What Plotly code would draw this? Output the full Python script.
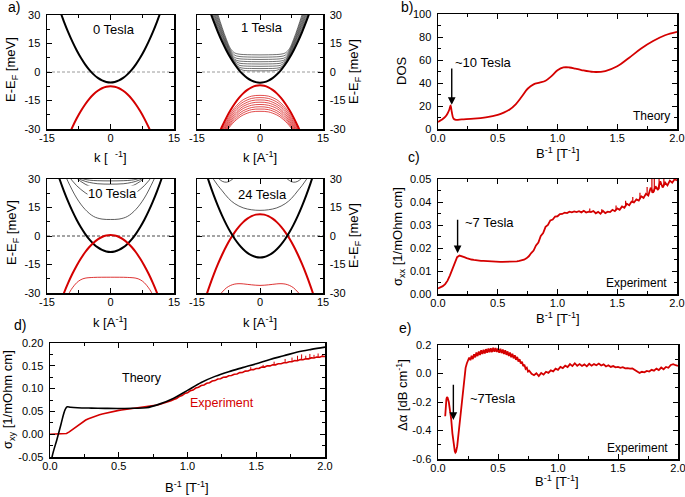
import plotly.graph_objects as go

W, H = 685, 497
RED = '#d40000'
FONT = 'Liberation Sans, Arial, sans-serif'

# ---------------- panel a: band structure (half curves k>=0, mirrored) ----------------
k_thick = [0, 1, 2, 3, 4, 5, 6, 7, 8, 9, 10, 11, 12, 13]
E0T_cond = [-5.5, -5.24, -4.44, -3.12, -1.26, 1.13, 4.04, 7.49, 11.46, 15.97, 21.0, 26.57, 32.66, 39.29]
E0T_val = [-7.5, -7.77, -8.56, -9.89, -11.76, -14.15, -17.08, -20.53, -24.52, -29.05, -34.1, -39.7, -45.8, -52.5]
E1T_cond = [-5.6, -5.34, -4.54, -3.22, -1.36, 1.03, 3.94, 7.39, 11.36, 15.87, 20.9, 26.47, 32.56, 39.19]
E1T_val = [-7.0, -7.27, -8.06, -9.39, -11.26, -13.65, -16.58, -20.03, -24.02, -28.55, -33.6, -39.2, -45.3, -52.0]
E10T_cond = [-8.4, -8.14, -7.34, -6.02, -4.16, -1.78, 1.14, 4.59, 8.56, 13.07, 18.1, 23.67, 29.76, 36.39]
E10T_val = [0.5, 0.25, -0.51, -1.77, -3.53, -5.8, -8.57, -11.85, -15.63, -19.9, -24.7, -30.0, -35.8, -42.1]
E24T_cond = [-11.3, -11.03, -10.22, -8.87, -6.98, -4.55, -1.58, 1.93, 5.98, 10.57, 15.7, 21.37, 27.58, 34.33]
E24T_val = [11.5, 11.24, 10.45, 9.14, 7.31, 4.95, 2.07, -1.34, -5.27, -9.72, -14.7, -20.2, -26.23, -32.78]

# 1 Tesla Landau levels
k_1T_cond = [0, 2, 4, 5, 6, 7, 8, 9, 10, 11, 12]
E_1T_LL_cond = [
    [0.6, 0.65, 0.9, 1.9, 4.4, 7.9, 12.0, 16.6, 21.8, 27.6, 33.9],
    [1.8, 1.85, 2.0, 2.6, 4.8, 8.4, 12.6, 17.4, 22.8, 28.8, 35.3],
    [3.0, 3.05, 3.2, 3.6, 5.4, 8.9, 13.3, 18.3, 23.9, 30.1, 36.8],
    [4.2, 4.25, 4.4, 4.7, 6.0, 9.4, 14.0, 19.2, 25.0, 31.4, 38.4],
    [5.4, 5.45, 5.6, 5.8, 6.6, 10.0, 14.7, 20.1, 26.1, 32.8, 40.1],
    [6.6, 6.65, 6.8, 7.0, 7.6, 10.7, 15.5, 21.1, 27.4, 34.3, 41.9],
    [7.8, 7.85, 8.0, 8.2, 8.8, 11.4, 16.3, 22.2, 28.7, 35.9, 43.8],
    [9.0, 9.05, 9.2, 9.4, 10.0, 12.2, 17.2, 23.3, 30.1, 37.5, 45.7],
]
k_1T_val = [0, 2, 4, 5, 6, 7, 8, 9, 10]
E_1T_LL_val = [
    [-12.3, -12.7, -14.6, -16.4, -18.7, -21.7, -25.5, -30.0, -35.3],
    [-13.5, -13.9, -15.8, -17.5, -19.8, -22.8, -26.5, -31.0, -36.2],
    [-14.7, -15.1, -17.0, -18.6, -20.9, -23.8, -27.5, -31.8, -37.0],
    [-15.9, -16.3, -18.1, -19.8, -22.0, -24.8, -28.4, -32.7, -37.7],
    [-17.1, -17.5, -19.2, -20.8, -23.0, -25.8, -29.2, -33.4, -38.3],
    [-18.3, -18.7, -20.4, -21.9, -24.0, -26.7, -30.0, -34.0, -38.7],
    [-19.5, -19.8, -21.5, -23.0, -25.0, -27.5, -30.7, -34.5, -39.0],
    [-20.7, -21.0, -22.6, -24.0, -25.9, -28.3, -31.3, -34.9, -39.2],
]
# 10 Tesla Landau levels
k_10T_LL = [
    [0, 2, 4, 6, 8, 10, 11],
    [0, 3, 5, 6, 7, 8, 9, 10],
    [0, 3, 5, 6, 7, 8],
    [0, 3, 5, 6, 7, 8],
    [0, 3, 5, 6, 7],
]
E_10T_LL = [
    [8.7, 8.9, 10.3, 14.0, 20.0, 28.5, 33.5],
    [19.5, 20.0, 21.5, 22.8, 24.5, 26.5, 29.0, 32.0],
    [24.5, 25.0, 26.3, 27.3, 28.7, 30.5],
    [27.3, 27.5, 28.2, 28.8, 29.6, 30.8],
    [29.0, 29.1, 29.4, 29.8, 30.4],
]
k_10T_LLval = [0, 4, 6, 7, 8, 9, 9.5, 10]
E_10T_LLval = [-21.7, -21.8, -22.2, -23.0, -24.6, -27.3, -29.0, -31.0]
# 24 Tesla Landau levels
k_24T_LL = [0, 2, 4, 6, 7.5, 9, 10, 11, 12]
E_24T_LL = [13.5, 13.8, 14.8, 17.0, 19.8, 23.8, 26.5, 29.6, 33.0]
k_24T_arc = [6, 7, 8, 9, 10]
E_24T_arc = [31.0, 29.2, 28.3, 28.8, 30.6]
k_24T_LLval = [0, 2, 4, 5, 6, 7, 8, 9, 10]
E_24T_LLval = [-26.0, -25.7, -25.2, -25.1, -25.3, -26.0, -27.3, -29.5, -32.0]

# ---------------- panel b: DOS theory ----------------
b_B = [0.0, 0.03, 0.06, 0.08, 0.095, 0.105, 0.115, 0.13, 0.15, 0.2, 0.3, 0.4, 0.5, 0.55, 0.6, 0.65,
       0.7, 0.75, 0.8, 0.85, 0.9, 0.95, 1.0, 1.05, 1.1, 1.15, 1.2, 1.3, 1.4, 1.5, 1.6, 1.7, 1.8, 1.9, 2.0]
b_DOS = [6.0, 8.0, 10.5, 13.5, 17.0, 20.5, 15.0, 9.0, 8.0, 8.4, 9.0, 10.2, 12.3, 14.2, 17.0, 21.5,
         28.0, 35.0, 38.8, 40.3, 42.0, 46.0, 51.0, 53.5, 53.5, 52.5, 51.3, 49.6, 50.4, 54.5, 62.0,
         70.0, 76.5, 81.5, 84.5]

# ---------------- panel c: sigma_xx experiment (B step 0.02) ----------------
c_B = [round(i * 0.02, 2) for i in range(101)]
c_sxx = [0.0024, 0.0028, 0.0034, 0.0043, 0.0058, 0.0081, 0.0110, 0.0139, 0.0160, 0.0167,
         0.0165, 0.0160, 0.0156, 0.0152, 0.0150, 0.0148, 0.0146, 0.0145, 0.0144, 0.0144,
         0.0143, 0.0142, 0.0142, 0.0141, 0.0141, 0.0140, 0.0140, 0.0140, 0.0140, 0.0140,
         0.0141, 0.0141, 0.0142, 0.0142, 0.0144, 0.0146, 0.0149, 0.0155, 0.0164, 0.0178,
         0.0189, 0.0211, 0.0224, 0.0252, 0.0265, 0.0292, 0.0300, 0.0320, 0.0324, 0.0337,
         0.0338, 0.0347, 0.0348, 0.0354, 0.0352, 0.0358, 0.0355, 0.0359, 0.0356, 0.0360,
         0.0355, 0.0362, 0.0354, 0.0358, 0.0356, 0.0361, 0.0351, 0.0357, 0.0349, 0.0362,
         0.0352, 0.0358, 0.0356, 0.0366, 0.0360, 0.0372, 0.0366, 0.0381, 0.0375, 0.0392,
         0.0386, 0.0402, 0.0398, 0.0411, 0.0406, 0.0425, 0.0418, 0.0436, 0.0428, 0.0462,
         0.0440, 0.0468, 0.0452, 0.0490, 0.0463, 0.0485, 0.0472, 0.0493, 0.0484, 0.0499,
         0.0494]
c_spike_B = [1.27, 1.37, 1.49, 1.57, 1.63, 1.69, 1.75, 1.79, 1.81, 1.85, 1.89]
c_spike_lo = [0.0356, 0.0352, 0.0364, 0.0382, 0.0398, 0.0412, 0.0430, 0.0440, 0.0446, 0.0455, 0.0468]
c_spike_hi = [0.0372, 0.0368, 0.0385, 0.0405, 0.0422, 0.0440, 0.0465, 0.0520, 0.0520, 0.0520, 0.0510]

# ---------------- panel d: sigma_xy ----------------
d_theory_B = [0.0, 0.015, 0.05, 0.08, 0.11, 0.125, 0.15, 0.2, 0.3, 0.4, 0.5, 0.6, 0.7, 0.8, 0.9,
              1.0, 1.1, 1.2, 1.3, 1.4, 1.5, 1.6, 1.7, 1.8, 1.9, 2.0]
d_theory = [-0.09, -0.05, -0.012, 0.022, 0.054, 0.060, 0.0590, 0.0580, 0.0572, 0.0567, 0.0565,
            0.0570, 0.0580, 0.0665, 0.0790, 0.0960, 0.1135, 0.1268, 0.1372, 0.1460, 0.1545,
            0.1640, 0.1720, 0.1802, 0.1860, 0.1910]
d_B = [round(i * 0.02, 2) for i in range(101)]
d_exp = [0, 0, 0, 0, 0, 0, 0.0015, 0.0050, 0.0095, 0.0145,
         0.0190, 0.0235, 0.0275, 0.0310, 0.0340, 0.0365, 0.0388, 0.0410, 0.0428, 0.0445,
         0.0460, 0.0475, 0.0488, 0.0500, 0.0510, 0.0522, 0.0532, 0.0540, 0.0548, 0.0555,
         0.0562, 0.0568, 0.0574, 0.0580, 0.0586, 0.0594, 0.0603, 0.0613, 0.0625, 0.0639,
         0.0655, 0.0672, 0.0690, 0.0712, 0.0733, 0.0763, 0.0783, 0.0826, 0.0848, 0.0891,
         0.0908, 0.0952, 0.0968, 0.1012, 0.1030, 0.1068, 0.1080, 0.1118, 0.1128, 0.1166,
         0.1176, 0.1211, 0.1216, 0.1248, 0.1251, 0.1282, 0.1286, 0.1316, 0.1319, 0.1350,
         0.1352, 0.1384, 0.1387, 0.1414, 0.1416, 0.1442, 0.1444, 0.1471, 0.1472, 0.1498,
         0.1498, 0.1522, 0.1521, 0.1544, 0.1544, 0.1568, 0.1566, 0.1590, 0.1589, 0.1614,
         0.1611, 0.1636, 0.1634, 0.1656, 0.1653, 0.1674, 0.1670, 0.1692, 0.1688, 0.1708,
         0.1705]
d_spike_B = [1.46, 1.55, 1.63, 1.71, 1.76, 1.80, 1.83, 1.86, 1.89, 1.92, 1.95, 1.98]
d_spike_lo = [0.141, 0.146, 0.152, 0.157, 0.160, 0.162, 0.163, 0.165, 0.166, 0.168, 0.169, 0.170]
d_spike_hi = [0.147, 0.152, 0.159, 0.165, 0.168, 0.172, 0.175, 0.172, 0.176, 0.174, 0.177, 0.174]

# ---------------- panel e: delta alpha ----------------
e_B1 = [0.06, 0.065, 0.07, 0.075, 0.08, 0.09, 0.10, 0.11, 0.12, 0.13, 0.14, 0.145, 0.15, 0.16,
        0.17, 0.18, 0.19, 0.20, 0.21, 0.22, 0.23, 0.24, 0.25]
e_A1 = [-0.30, -0.22, -0.18, -0.165, -0.17, -0.20, -0.25, -0.32, -0.42, -0.50, -0.545, -0.555,
        -0.55, -0.51, -0.43, -0.34, -0.24, -0.15, -0.07, -0.01, 0.04, 0.07, 0.088]
e_B2 = [round(0.26 + i * 0.01, 2) for i in range(51)]
e_A2 = [0.112, 0.093, 0.124, 0.101, 0.135, 0.113, 0.148, 0.122, 0.154, 0.130,
        0.163, 0.137, 0.167, 0.140, 0.171, 0.145, 0.176, 0.149, 0.178, 0.150,
        0.181, 0.152, 0.179, 0.151, 0.176, 0.146, 0.173, 0.143, 0.168, 0.137,
        0.163, 0.131, 0.155, 0.123, 0.147, 0.114, 0.139, 0.106, 0.128, 0.096,
        0.116, 0.084, 0.100, 0.070, 0.083, 0.052, 0.062, 0.033, 0.041, 0.014,
        0.020]
e_B3 = [round(0.78 + i * 0.02, 2) for i in range(62)]
e_A3 = [-0.002, -0.012, 0.002, -0.018, 0.004, -0.008, 0.012, 0.004, 0.022, 0.015,
        0.034, 0.026, 0.046, 0.038, 0.055, 0.045, 0.066, 0.052, 0.072, 0.054,
        0.066, 0.053, 0.064, 0.050, 0.068, 0.055, 0.066, 0.058, 0.070, 0.056,
        0.064, 0.049, 0.058, 0.046, 0.052, 0.043, 0.046, 0.040, 0.044, 0.036,
        0.038, 0.034, 0.036, 0.026, 0.018, 0.004, 0.012, 0.008, 0.018, 0.014,
        0.026, 0.020, 0.034, 0.024, 0.042, 0.030, 0.046, 0.040, 0.060, 0.066,
        0.058, 0.054]

# ---------------- tick definitions ----------------
k_ticks = [-15, 0, 15]
k_ticktext = ['-15', '0', '15']
k_minor = [-7.5, 7.5]
E_ticks = [-30, -15, 0, 15, 30]
E_ticktext = ['-30', '-15', '0', '15', '30']
E_minor = [-22.5, -7.5, 7.5, 22.5]
B_ticks = [0, 0.5, 1.0, 1.5, 2.0]
B_ticktext = ['0.0', '0.5', '1.0', '1.5', '2.0']
B_minor = [0.25, 0.75, 1.25, 1.75]
dos_ticks = [0, 20, 40, 60, 80, 100]
dos_ticktext = ['0', '20', '40', '60', '80', '100']
dos_minor = [10, 30, 50, 70, 90]
sxx_ticks = [0, 0.01, 0.02, 0.03, 0.04, 0.05]
sxx_ticktext = ['0.00', '0.01', '0.02', '0.03', '0.04', '0.05']
sxx_minor = [0.005, 0.015, 0.025, 0.035, 0.045]
sxy_ticks = [-0.05, 0, 0.05, 0.10, 0.15, 0.20]
sxy_ticktext = ['-0.05', '0.00', '0.05', '0.10', '0.15', '0.20']
sxy_minor = [-0.025, 0.025, 0.075, 0.125, 0.175]
da_ticks = [-0.6, -0.4, -0.2, 0.0, 0.2]
da_ticktext = ['-0.6', '-0.4', '-0.2', '0.0', '0.2']
da_minor = [-0.5, -0.3, -0.1, 0.1]


def mirror(k, e):
    return [-v for v in k[:0:-1]] + list(k), list(e[:0:-1]) + list(e)


def dx(a, b):
    return [a / W, b / W]


def dy(top, bottom):
    return [1 - bottom / H, 1 - top / H]


fig = go.Figure()


def line(x, y, n, color='black', width=2.0, shape='spline', dash=None):
    fig.add_trace(go.Scatter(x=x, y=y, mode='lines', xaxis='x' + ('' if n == 1 else str(n)),
                             yaxis='y' + ('' if n == 1 else str(n)), hoverinfo='skip',
                             line=dict(color=color, width=width, shape=shape, dash=dash,
                                       **({'smoothing': 1.0} if shape == 'spline' else {})),
                             showlegend=False))


# panel a traces
zero_k = [-15, 15]
for n, col, w in [(1, '#9a9a9a', 1.0), (2, '#9a9a9a', 1.0), (3, '#333333', 0.9), (4, '#333333', 0.9)]:
    line(zero_k, [0, 0], n, color=col, width=w, shape='linear', dash='3px,2px')

# 0 Tesla
line(*mirror(k_thick, E0T_cond), 1, 'black', 2.0)
line(*mirror(k_thick, E0T_val), 1, RED, 2.0)
# 1 Tesla
for ee in E_1T_LL_cond:
    line(*mirror(k_1T_cond, ee), 2, '#333333', 0.7)
for ee in E_1T_LL_val:
    line(*mirror(k_1T_val, ee), 2, RED, 0.7)
line(*mirror(k_thick, E1T_cond), 2, 'black', 2.0)
line(*mirror(k_thick, E1T_val), 2, RED, 2.0)
# 10 Tesla
for kk, ee in zip(k_10T_LL, E_10T_LL):
    line(*mirror(kk, ee), 3, '#333333', 0.8)
line(*mirror(k_10T_LLval, E_10T_LLval), 3, RED, 0.8)
line(*mirror(k_thick, E10T_cond), 3, 'black', 2.0)
line(*mirror(k_thick, E10T_val), 3, RED, 2.0)
# 24 Tesla
line(*mirror(k_24T_LL, E_24T_LL), 4, '#333333', 0.8)
line([-v for v in k_24T_arc[::-1]], E_24T_arc[::-1], 4, '#333333', 0.8)
line(k_24T_arc, E_24T_arc, 4, '#333333', 0.8)
line(*mirror(k_24T_LLval, E_24T_LLval), 4, RED, 0.8)
line(*mirror(k_thick, E24T_val), 4, RED, 2.0)
line(*mirror(k_thick, E24T_cond), 4, 'black', 2.0)

# panel b
line(b_B, b_DOS, 5, RED, 1.8)
# panel c
line(c_B, c_sxx, 6, RED, 1.8, shape='linear')
sx, sy = [], []
for b, lo, hi in zip(c_spike_B, c_spike_lo, c_spike_hi):
    sx += [b, b, None]
    sy += [lo, hi, None]
line(sx, sy, 6, RED, 1.2, shape='linear')
# panel d
line(d_B, d_exp, 7, RED, 1.6, shape='linear')
sx, sy = [], []
for b, lo, hi in zip(d_spike_B, d_spike_lo, d_spike_hi):
    sx += [b, b, None]
    sy += [lo, hi, None]
line(sx, sy, 7, RED, 1.0, shape='linear')
line(d_theory_B, d_theory, 7, 'black', 1.6, shape='spline')
# panel e
line(e_B1 + e_B2 + e_B3, e_A1 + e_A2 + e_A3, 8, RED, 1.8, shape='linear')


def axis(domain, rng, tv, tt, mv, anchor, side=None, standoff=3):
    d = dict(domain=domain, range=rng, anchor=anchor, tickmode='array', tickvals=tv, ticktext=tt,
             ticks='inside', ticklen=5, tickwidth=1, tickcolor='black',
             minor=dict(tickmode='array', tickvals=mv, ticks='inside', ticklen=3, tickwidth=1,
                        tickcolor='black', showgrid=False),
             showline=True, linewidth=1.5, linecolor='black', mirror='ticks',
             showgrid=False, zeroline=False, ticklabelstandoff=standoff, automargin=False,
             ticklabeloverflow='allow',
             tickfont=dict(family=FONT, size=11, color='black'), fixedrange=True)
    if side:
        d['side'] = side
    return d


panels = {
    1: (dx(47, 174), dy(15, 129), [-15, 15], k_ticks, k_ticktext, k_minor, [-30, 30], E_ticks, E_ticktext, E_minor, 'left'),
    2: (dx(197, 323), dy(15, 129), [-15, 15], k_ticks, k_ticktext, k_minor, [-30, 30], E_ticks, E_ticktext, E_minor, 'right'),
    3: (dx(47, 174), dy(179, 293), [-15, 15], k_ticks, k_ticktext, k_minor, [-30, 30], E_ticks, E_ticktext, E_minor, 'left'),
    4: (dx(197, 323), dy(179, 293), [-15, 15], k_ticks, k_ticktext, k_minor, [-30, 30], E_ticks, E_ticktext, E_minor, 'right'),
    5: (dx(438, 677), dy(14, 129), [0, 2], B_ticks, B_ticktext, B_minor, [0, 100], dos_ticks, dos_ticktext, dos_minor, 'left'),
    6: (dx(438, 677), dy(179, 294), [0, 2], B_ticks, B_ticktext, B_minor, [0, 0.05], sxx_ticks, sxx_ticktext, sxx_minor, 'left'),
    7: (dx(50, 325), dy(343, 457), [0, 2], B_ticks, B_ticktext, B_minor, [-0.05, 0.2], sxy_ticks, sxy_ticktext, sxy_minor, 'left'),
    8: (dx(438, 678), dy(345, 459), [0, 2], B_ticks, B_ticktext, B_minor, [-0.6, 0.2], da_ticks, da_ticktext, da_minor, 'left'),
}
layout_axes = {}
for n, (xd, yd, xr, xt, xtt, xm, yr, yt, ytt, ym, side) in panels.items():
    sfx = '' if n == 1 else str(n)
    layout_axes['xaxis' + sfx] = axis(xd, xr, xt, xtt, xm, 'y' + sfx, standoff=-2)
    layout_axes['yaxis' + sfx] = axis(yd, yr, yt, ytt, ym, 'x' + sfx, side=side, standoff=3)


def ptxt(text, px, py, size=13, angle=0, color='black', xanchor='center'):
    return dict(text=text, x=px / W, y=1 - py / H, xref='paper', yref='paper', showarrow=False,
                textangle=angle, xanchor=xanchor, yanchor='middle',
                font=dict(family=FONT, size=size, color=color))


EF = 'E-E<sub>F</sub> [meV]'
BINV = 'B<sup>-1</sup> [T<sup>-1</sup>]'
ann = [
    ptxt('a)', 14, 7, 14), ptxt('b)', 407, 7, 14), ptxt('c)', 414, 157, 14),
    ptxt('d)', 20, 325, 14), ptxt('e)', 405, 328, 14),
    ptxt(EF, 11, 70, 13, -90), ptxt(EF, 354, 72, 13, -90),
    ptxt(EF, 12, 233, 13, -90), ptxt(EF, 354, 236, 13, -90),
    ptxt('k [  <sup>-1</sup>]', 110, 157, 13), ptxt('k [A<sup>-1</sup>]', 260, 157, 13),
    ptxt('k [A<sup>-1</sup>]', 110, 322, 13), ptxt('k [A<sup>-1</sup>]', 260, 322, 13),
    ptxt('DOS', 402, 71, 13, -90), ptxt(BINV, 558, 153, 13),
    ptxt('σ<sub>xx</sub> [1/mOhm cm]', 398, 237, 13, -90), ptxt(BINV, 558, 318, 13),
    ptxt('σ<sub>xy</sub> [1/mOhm cm]', 8, 400, 13, -90), ptxt(BINV, 187, 487, 13),
    ptxt('Δα [dB cm<sup>-1</sup>]', 402, 395, 13, -90), ptxt(BINV, 557, 481, 13),
]


def dtxt(text, x, y, n, size=13, color='black', xanchor='center', bg=None):
    sfx = '' if n == 1 else str(n)
    d = dict(text=text, x=x, y=y, xref='x' + sfx, yref='y' + sfx, showarrow=False,
             xanchor=xanchor, yanchor='middle', font=dict(family=FONT, size=size, color=color))
    if bg:
        d.update(bgcolor=bg, borderpad=0)
    return d


def arrow(x, y_tip, y_tail, n):
    sfx = str(n)
    return dict(x=x, y=y_tip, ax=x, ay=y_tail, xref='x' + sfx, yref='y' + sfx, axref='x' + sfx,
                ayref='y' + sfx, text='', showarrow=True, arrowhead=2, arrowsize=1.1,
                arrowwidth=1.4, arrowcolor='black', standoff=0, startstandoff=0)


ann += [
    dtxt('0 Tesla', 0.8, 22.6, 1), dtxt('1 Tesla', 0.5, 23.2, 2),
    dtxt('10 Tesla', 0.4, 22.6, 3, bg='white'), dtxt('24 Tesla', 0.5, 22.0, 4),
    dtxt('~10 Tesla', 0.125, 57.5, 5, 13, xanchor='left'),
    dtxt('Theory', 1.96, 11, 5, 12, xanchor='right'),
    arrow(0.115, 21, 54, 5),
    dtxt('~7 Tesla', 0.205, 0.0312, 6, 13, xanchor='left'),
    dtxt('Experiment', 1.935, 0.0047, 6, 12, xanchor='right'),
    arrow(0.164, 0.0177, 0.0329, 6),
    dtxt('Theory', 0.67, 0.123, 7, 12.5),
    dtxt('Experiment', 1.25, 0.068, 7, 12.5, color=RED),
    dtxt('~7Tesla', 0.25, -0.174, 8, 13, xanchor='left'),
    dtxt('Experiment', 1.93, -0.523, 8, 12, xanchor='right'),
    arrow(0.128, -0.326, -0.069, 8),
]

fig.update_layout(width=W, height=H, autosize=False, margin=dict(l=0, r=0, t=0, b=0, autoexpand=False),
                  paper_bgcolor='white', plot_bgcolor='white', showlegend=False,
                  font=dict(family=FONT, size=11, color='black'), annotations=ann, **layout_axes)
fig.write_html('out.html', config={'displayModeBar': False, 'staticPlot': True},
               post_script="document.body.style.margin='0';document.body.style.padding='0';")
